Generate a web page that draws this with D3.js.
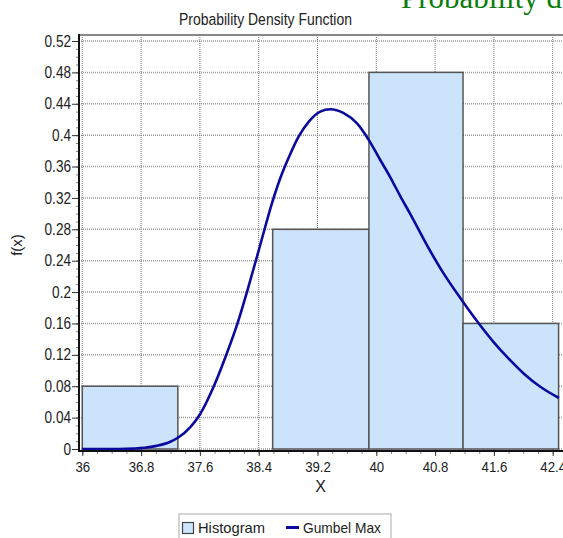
<!DOCTYPE html>
<html><head><meta charset="utf-8">
<script src="https://cdn.jsdelivr.net/npm/d3@7"></script>
<style>body{margin:0;background:#fff} svg{display:block} text{font-family:"Liberation Sans",Arial,sans-serif}</style>
</head><body><svg id="c" width="563" height="538"></svg>
<script>
// ---- data ----
const binEdges = [36, 37.3, 38.59, 39.9, 41.18, 42.48];
const binFreq = [0.08, 0, 0.28, 0.48, 0.16];
const curveX = [36, 36.5, 36.7, 36.85, 37.01, 37.19, 37.31, 37.47, 37.6, 37.785, 37.967, 38.125, 38.24, 38.376, 38.444, 38.58, 38.693, 38.83, 38.943, 39.079, 39.238, 39.375, 39.556, 39.738, 39.897, 40.056, 40.192, 40.328, 40.465, 40.7, 40.9, 41.169, 41.395, 41.599, 41.782, 42.008, 42.236, 42.485];
const curveY = [0, 0, 0.0005, 0.0015, 0.004, 0.009, 0.015, 0.028, 0.044, 0.079, 0.122, 0.164, 0.2, 0.245, 0.268, 0.313, 0.345, 0.376, 0.398, 0.417, 0.43, 0.433, 0.428, 0.415, 0.394, 0.368, 0.346, 0.322, 0.299, 0.258, 0.226, 0.189, 0.160, 0.136, 0.117, 0.096, 0.079, 0.065];
const xTicks = [36, 36.8, 37.6, 38.4, 39.2, 40, 40.8, 41.6, 42.4];
const xTickLabels = ["36", "36.8", "37.6", "38.4", "39.2", "40", "40.8", "41.6", "42.4"];
const yTicks = [0, 0.04, 0.08, 0.12, 0.16, 0.2, 0.24, 0.28, 0.32, 0.36, 0.4, 0.44, 0.48, 0.52];
const yTickLabels = ["0", "0.04", "0.08", "0.12", "0.16", "0.2", "0.24", "0.28", "0.32", "0.36", "0.4", "0.44", "0.48", "0.52"];
const chartTitle = "Probability Density Function";
const legendLabels = ["Histogram", "Gumbel Max"];

// ---- layout ----
const svg = d3.select("#c");
const L = 79, R = 563, T = 35, B = 451;
const x = d3.scaleLinear().domain([36, 42.4]).range([82.3, 552.7]);
const y = d3.scaleLinear().domain([0, 0.52]).range([449, 41]);

svg.append("defs").append("clipPath").attr("id", "clip")
  .append("rect").attr("x", L).attr("y", T).attr("width", R - L).attr("height", B - T);

// green overflow heading
svg.append("text").attr("x", 401).attr("y", 8)
  .style("font-family", '"Liberation Serif","Times New Roman",serif')
  .attr("font-size", 31).attr("fill", "#0b7d0b").text("Probability d");

// title
svg.append("text").attr("x", 265.5).attr("y", 25).attr("text-anchor", "middle")
  .attr("font-size", 17).attr("fill", "#222")
  .attr("textLength", 173).attr("lengthAdjust", "spacingAndGlyphs").text(chartTitle);

// grid
const grid = svg.append("g").attr("clip-path", "url(#clip)");
grid.selectAll(".hg").data(yTicks).join("line")
  .attr("x1", L).attr("x2", R).attr("y1", d => y(d)).attr("y2", d => y(d))
  .attr("stroke", "#999").attr("stroke-width", 1.5).attr("stroke-dasharray", "1,1");
grid.selectAll(".vg").data(xTicks).join("line")
  .attr("y1", T).attr("y2", B).attr("x1", d => x(d)).attr("x2", d => x(d))
  .attr("stroke", "#777").attr("stroke-width", 1).attr("stroke-dasharray", "1,1");

// bars
const bars = binFreq.map((f, i) => ({x0: binEdges[i], x1: binEdges[i + 1], f})).filter(d => d.f > 0);
svg.append("g").attr("clip-path", "url(#clip)").selectAll("rect").data(bars).join("rect")
  .attr("x", d => x(d.x0)).attr("width", d => x(d.x1) - x(d.x0))
  .attr("y", d => y(d.f)).attr("height", d => y(0) - y(d.f))
  .attr("fill", "#cce4fb").attr("stroke", "#555").attr("stroke-width", 1.5);

// curve
const line = d3.line().x(d => x(d[0])).y(d => y(d[1])).curve(d3.curveMonotoneX);
svg.append("path").attr("clip-path", "url(#clip)")
  .datum(curveX.map((v, i) => [v, curveY[i]]))
  .attr("d", line).attr("fill", "none").attr("stroke", "#0a0a9e").attr("stroke-width", 2.6);

// frame top
svg.append("line").attr("x1", L).attr("x2", R).attr("y1", T).attr("y2", T)
  .attr("stroke", "#888").attr("stroke-width", 2);

// y axis
const yMinor = d3.range(0, 0.5201, 0.01);
svg.append("g").attr("transform", `translate(${L},0)`)
  .call(d3.axisLeft(y).tickValues(yMinor).tickSize(3).tickFormat(""))
  .call(g => g.select(".domain").remove())
  .call(g => g.selectAll("line").attr("stroke", "#888"));
const yAx = svg.append("g").attr("transform", `translate(${L},0)`)
  .call(d3.axisLeft(y).tickValues(yTicks).tickSize(7).tickPadding(1)
    .tickFormat((d, i) => yTickLabels[i]));
yAx.select(".domain").remove();
yAx.selectAll("line").attr("stroke", "#333");
yAx.selectAll("text").attr("font-size", 16).attr("fill", "#222")
  .style("font-family", '"Liberation Sans",Arial,sans-serif')
  .attr("transform", "translate(-8,0) scale(0.85,1) translate(8,0)");

// x axis
const xMinor = d3.range(36, 42.41, 0.2);
svg.append("g").attr("transform", `translate(0,${B})`)
  .call(d3.axisBottom(x).tickValues(xMinor).tickSize(3).tickFormat(""))
  .call(g => g.select(".domain").remove())
  .call(g => g.selectAll("line").attr("stroke", "#888"));
const xAx = svg.append("g").attr("transform", `translate(0,${B})`)
  .call(d3.axisBottom(x).tickValues(xTicks).tickSize(5).tickPadding(5)
    .tickFormat((d, i) => xTickLabels[i]));
xAx.select(".domain").remove();
xAx.selectAll("line").attr("stroke", "#333");
xAx.selectAll("text").attr("font-size", 15).attr("fill", "#222")
  .style("font-family", '"Liberation Sans",Arial,sans-serif')
  .attr("transform", "scale(0.88,1)");

// axis lines
svg.append("line").attr("x1", L).attr("x2", L).attr("y1", T - 1).attr("y2", B + 1)
  .attr("stroke", "#111").attr("stroke-width", 2);
svg.append("line").attr("x1", L).attr("x2", R).attr("y1", B).attr("y2", B)
  .attr("stroke", "#111").attr("stroke-width", 2);

// axis titles
svg.append("text").attr("x", 320.5).attr("y", 492).attr("text-anchor", "middle")
  .attr("font-size", 16).attr("fill", "#222").text("X");
svg.append("text").attr("transform", "translate(22,245) rotate(-90)")
  .attr("text-anchor", "middle").attr("font-size", 15).attr("fill", "#222").text("f(x)");

// legend
const lg = svg.append("g");
lg.append("rect").attr("x", 179).attr("y", 514).attr("width", 212).attr("height", 40)
  .attr("fill", "#fff").attr("stroke", "#aaa").attr("stroke-width", 1);
lg.append("rect").attr("x", 182.5).attr("y", 522.5).attr("width", 11).attr("height", 11)
  .attr("fill", "#cce4fb").attr("stroke", "#444").attr("stroke-width", 1.2);
lg.append("text").attr("x", 198).attr("y", 533).attr("font-size", 15).attr("fill", "#222")
  .attr("textLength", 67).attr("lengthAdjust", "spacingAndGlyphs").text(legendLabels[0]);
lg.append("line").attr("x1", 286).attr("x2", 299).attr("y1", 527.5).attr("y2", 527.5)
  .attr("stroke", "#0a0a9e").attr("stroke-width", 3);
lg.append("text").attr("x", 303).attr("y", 533).attr("font-size", 15).attr("fill", "#222")
  .attr("textLength", 78).attr("lengthAdjust", "spacingAndGlyphs").text(legendLabels[1]);
</script></body></html>
